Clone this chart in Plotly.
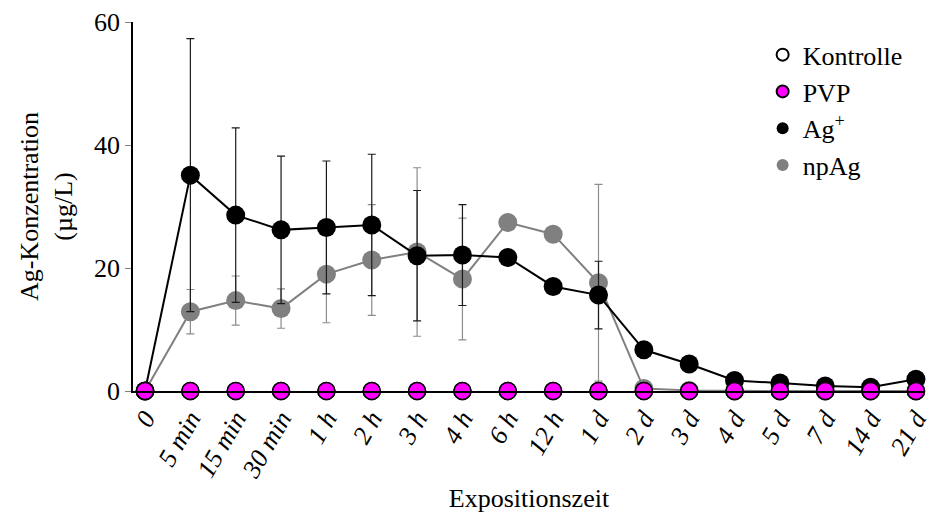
import plotly.graph_objects as go

categories = ["0", "5 min", "15 min", "30 min", "1 h", "2 h", "3 h", "4 h", "6 h", "12 h",
              "1 d", "2 d", "3 d", "4 d", "5 d", "7 d", "14 d", "21 d"]
kontrolle = [0] * 18
pvp = [0] * 18
ag_ion = [0, 35.1, 28.6, 26.2, 26.6, 27.0, 22.0, 22.1, 21.7, 17.0, 15.6, 6.7, 4.4, 1.7, 1.3, 0.8, 0.6, 1.9]
ag_ion_err = [None, 22.2, 14.2, 12.0, 10.8, 11.5, 10.6, 8.2, None, None, 5.5, None, None, None, None, None, None, None]
np_ag = [0, 12.9, 14.7, 13.4, 19.0, 21.3, 22.6, 18.2, 27.4, 25.5, 17.6, 0.4, 0.1, 0, 0, 0, 0, 0]
np_ag_err = [None, 3.6, 4.0, 3.2, 7.9, 9.0, 13.7, 9.9, None, None, 16.0, None, None, None, None, None, None, None]

FONT = "Liberation Serif"
xi = list(range(len(categories)))

fig = go.Figure()
# npAg
fig.add_trace(go.Scatter(
    x=xi, y=np_ag, mode="lines", showlegend=False, hoverinfo="skip",
    line=dict(color="#808080", width=2), cliponaxis=False))
fig.add_trace(go.Scatter(
    x=xi, y=np_ag, name="npAg", mode="markers", legendrank=4, legendgroup="d",
    marker=dict(color="#808080", size=19),
    error_y=dict(type="data", array=np_ag_err, visible=True, color="#8c8c8c", thickness=1.2, width=4),
    cliponaxis=False))
# Ag+
fig.add_trace(go.Scatter(
    x=xi, y=ag_ion, mode="lines", showlegend=False, hoverinfo="skip",
    line=dict(color="#000000", width=2), cliponaxis=False))
fig.add_trace(go.Scatter(
    x=xi, y=ag_ion, name="Ag<sup>+</sup>", mode="markers", legendrank=3, legendgroup="c",
    marker=dict(color="#000000", size=19),
    error_y=dict(type="data", array=ag_ion_err, visible=True, color="#1a1a1a", thickness=1.2, width=4),
    cliponaxis=False))
# Kontrolle
fig.add_trace(go.Scatter(
    x=xi, y=kontrolle, name="Kontrolle", mode="markers", legendrank=1, legendgroup="a",
    marker=dict(color="#ffffff", size=17, line=dict(color="#000000", width=1.5)),
    cliponaxis=False))
# PVP
fig.add_trace(go.Scatter(
    x=xi, y=pvp, name="PVP", mode="markers", legendrank=2, legendgroup="b",
    marker=dict(color="#ff00ff", size=17, line=dict(color="#000000", width=1.5)),
    cliponaxis=False))

fig.update_layout(
    width=931, height=513,
    margin=dict(l=133, r=6, t=22, b=122),
    plot_bgcolor="white", paper_bgcolor="white",
    font=dict(family=FONT, color="black", size=24),
    legend=dict(x=0.795, y=0.975, xanchor="left", yanchor="top", font=dict(size=26, family=FONT),
                tracegroupgap=0, bgcolor="rgba(0,0,0,0)", itemsizing="constant"),
    xaxis=dict(
        range=[-0.265, 17.2], tickmode="array", tickvals=xi,
        ticktext=["<i>%s</i>" % c for c in categories],
        tickangle=-60, showgrid=False, zeroline=False, automargin=False,
        ticklabeloverflow="allow",
        showline=True, linecolor="black", linewidth=2, ticks="",
        tickfont=dict(size=26, family=FONT),
        title=dict(text="Expositionszeit", font=dict(size=26, family=FONT), standoff=10)),
    yaxis=dict(
        range=[0, 60], tickvals=[0, 20, 40, 60], showgrid=False, zeroline=False, automargin=False,
        showline=True, linecolor="black", linewidth=1.5, ticks="outside", ticklen=6,
        tickcolor="#808080", tickfont=dict(size=26, family=FONT),
        title=dict(text="Ag-Konzentration<br>(µg/L)", font=dict(size=26, family=FONT), standoff=14)),
)

fig.write_html("out.html", config={"displayModeBar": False},
               post_script="document.body.style.margin='0';document.body.style.padding='0';")
